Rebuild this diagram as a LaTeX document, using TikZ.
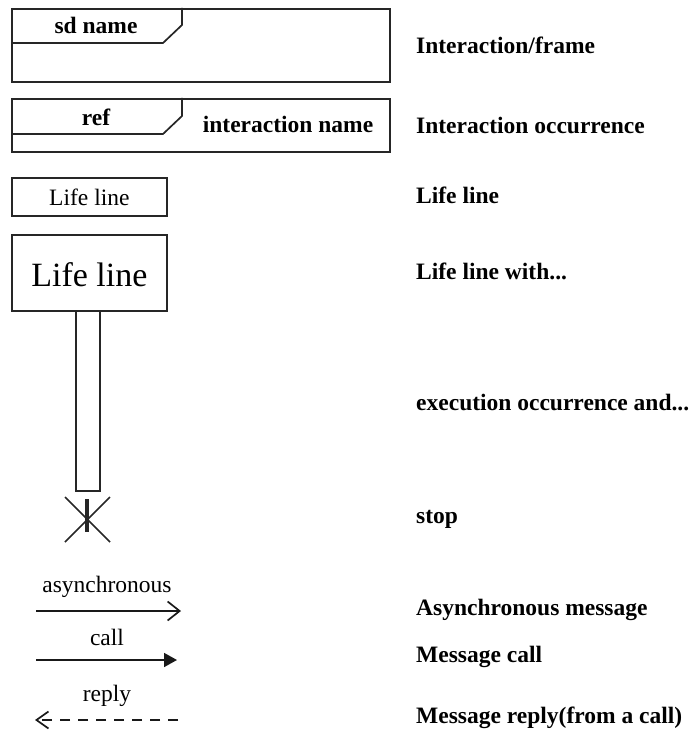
\documentclass[tikz,border=0pt]{standalone}
\usepackage{fontspec}
\setmainfont{Liberation Serif}
\usetikzlibrary{arrows.meta}
\begin{document}
\begin{tikzpicture}[x=1pt,y=-1pt,
  box/.style={draw=black!85,line width=1.7pt},
  lbl/.style={font=\fontsize{23.5}{27}\selectfont\bfseries,anchor=west,inner sep=0pt},
  txt/.style={font=\fontsize{23.5}{27}\selectfont,inner sep=0pt},
  btxt/.style={font=\fontsize{23.5}{27}\selectfont\bfseries,inner sep=0pt},
  msg/.style={line width=1.7pt,draw=black!90}]
\useasboundingbox (0,0) rectangle (694,735);

% Interaction frame
\node[box,minimum width=378pt,minimum height=73pt,inner sep=0pt,anchor=north west] (frame) at (11,8) {};
\draw[box] (11,43) -- (163,43) -- (182,25) -- (182,8);
\node[btxt] (sdname) at (96,25) {sd name};

% Interaction occurrence
\node[box,minimum width=378pt,minimum height=53pt,inner sep=0pt,anchor=north west] (occ) at (11,98) {};
\draw[box] (11,134) -- (163,134) -- (182,116) -- (182,98);
\node[btxt] (ref) at (96,117) {ref};
\node[btxt] (iname) at (288,124) {interaction name};

% Life lines
\node[box,minimum width=155pt,minimum height=38pt,inner sep=0pt,anchor=north west] (ll1) at (11,177) {};
\node[txt] at (ll1.center) {Life line};
\node[box,minimum width=155pt,minimum height=76pt,inner sep=0pt,anchor=north west] (ll2) at (11,234) {};
\node[font=\fontsize{34}{38}\selectfont,inner sep=0pt] at ([yshift=-2pt]ll2.center) {Life line};

% Execution occurrence
\node[box,minimum width=24pt,inner sep=0pt,anchor=north,minimum height=180pt] (exec) at (88,310) {};

% Stop
\coordinate (s1) at (65,497);
\coordinate (s2) at (110,542);
\coordinate (s3) at (110,497);
\coordinate (s4) at (65,542);
\draw[line width=1.5pt,black!85] (s1) -- (s2) (s3) -- (s4);
\draw[line width=3.4pt,black!85] (87,499) -- (87,532);

% Messages
\coordinate (a1) at (36,611); \coordinate (a2) at (181,611);
\draw[msg,-{Straight Barb[length=12pt,width=19pt,line width=1.7pt]}] (a1) -- (a2);
\node[txt] at (107,587) {asynchronous};
\coordinate (c1) at (36,660); \coordinate (c2) at (177,660);
\draw[msg,-{Triangle[length=13pt,width=14pt]}] (c1) -- (c2);
\node[txt] at (107,637) {call};
\coordinate (r1) at (178,720); \coordinate (r2) at (35,720);
\draw[msg,dash pattern=on 10pt off 8pt,-{Straight Barb[length=12pt,width=17pt,line width=1.7pt]}] (r1) -- (r2);
\node[txt] at (107,696) {reply};

% Legend labels
\node[lbl] at (416,45) {Interaction/frame};
\node[lbl] at (416,125) {Interaction occurrence};
\node[lbl] at (416,195) {Life line};
\node[lbl] at (416,271) {Life line with...};
\node[lbl] at (416,403) {execution occurrence and...};
\node[lbl] at (416,519) {stop};
\node[lbl] at (416,610) {Asynchronous message};
\node[lbl] at (416,657) {Message call};
\node[lbl] at (416,718) {Message reply(from a call)};
\end{tikzpicture}
\end{document}
